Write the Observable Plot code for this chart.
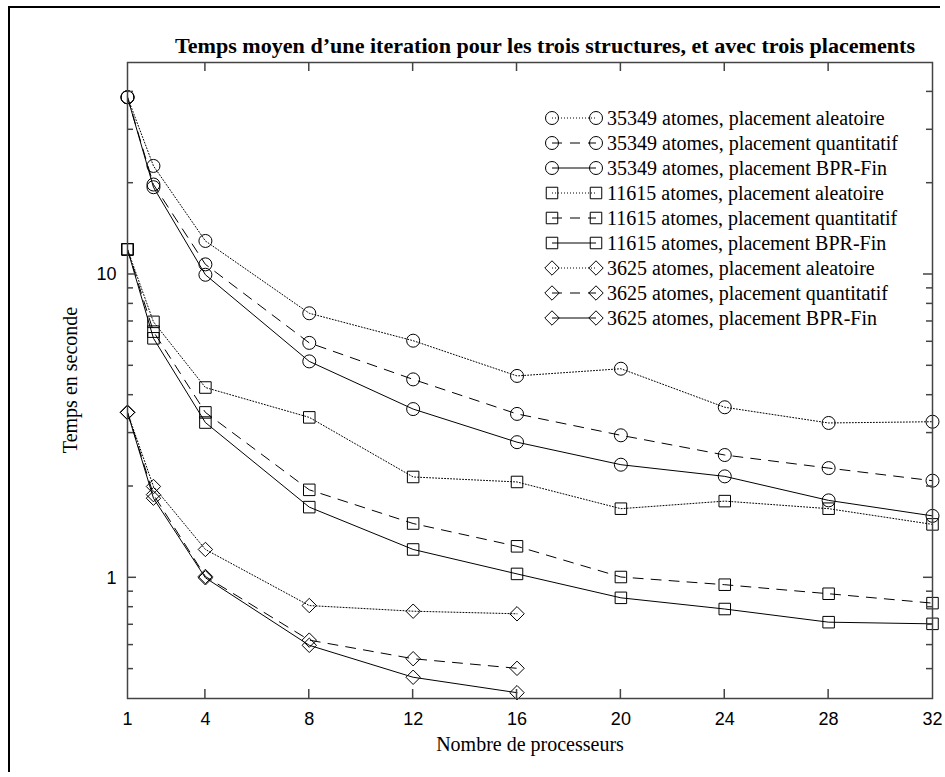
<!DOCTYPE html>
<html>
<head>
<meta charset="utf-8">
<script src="https://cdn.jsdelivr.net/npm/d3@7"></script>
<script src="https://cdn.jsdelivr.net/npm/@observablehq/plot@0.6"></script>
<style>
  html, body { margin: 0; padding: 0; background: #fff; }
  #wrap { position: relative; width: 945px; height: 777px; }
  #outer { position: absolute; left: 8px; top: 6px; width: 930px; height: 764px;
           border-left: 2px solid #000; border-top: 2px solid #000; pointer-events: none; }
</style>
</head>
<body>
<div id="wrap"><div id="outer"></div></div>
<script>
// ---- data ----
const title = "Temps moyen d’une iteration pour les trois structures, et avec trois placements";
const xLabel = "Nombre de processeurs";
const yLabel = "Temps en seconde";
const procLarge = [1, 2, 4, 8, 12, 16, 20, 24, 28, 32];
const procSmall = [1, 2, 4, 8, 12, 16];
const xTickLabels = [1, 4, 8, 12, 16, 20, 24, 28, 32];
const yTickLabels = [1, 10];
const yMinorTicks = [0.5, 0.6, 0.7, 0.8, 0.9, 2, 3, 4, 5, 6, 7, 8, 9, 20, 30, 40];

const c35349Aleatoire   = [38.4, 22.8, 12.9, 7.45, 6.05, 4.63, 4.89, 3.65, 3.24, 3.27];
const c35349Quantitatif = [38.4, 19.8, 10.8, 5.95, 4.51, 3.47, 2.95, 2.54, 2.30, 2.09];
const c35349BPR         = [38.4, 19.4, 9.98, 5.17, 3.60, 2.80, 2.36, 2.16, 1.80, 1.60];
const s11615Aleatoire   = [12.1, 6.98, 4.24, 3.38, 2.15, 2.07, 1.69, 1.79, 1.69, 1.50];
const s11615Quantitatif = [12.1, 6.48, 3.51, 1.95, 1.51, 1.27, 1.006, 0.949, 0.886, 0.825];
const s11615BPR         = [12.1, 6.16, 3.25, 1.71, 1.24, 1.03, 0.859, 0.789, 0.714, 0.705];
const d3625Aleatoire    = [3.51, 2.00, 1.24, 0.81, 0.776, 0.761];
const d3625Quantitatif  = [3.51, 1.88, 1.01, 0.623, 0.541, 0.503];
const d3625BPR          = [3.51, 1.83, 1.00, 0.599, 0.470, 0.418];

const seriesLabels = [
  "35349 atomes, placement aleatoire",
  "35349 atomes, placement quantitatif",
  "35349 atomes, placement BPR-Fin",
  "11615 atomes, placement aleatoire",
  "11615 atomes, placement quantitatif",
  "11615 atomes, placement BPR-Fin",
  "3625 atomes, placement aleatoire",
  "3625 atomes, placement quantitatif",
  "3625 atomes, placement BPR-Fin"
];
// ---- styles ----
const DOT = "1,2", DASH = "10,8", SOLID = null;
const seriesDefs = [
  {values: c35349Aleatoire,   procs: procLarge, symbol: "circle",   dash: DOT},
  {values: c35349Quantitatif, procs: procLarge, symbol: "circle",   dash: DASH},
  {values: c35349BPR,         procs: procLarge, symbol: "circle",   dash: SOLID},
  {values: s11615Aleatoire,   procs: procLarge, symbol: "square",   dash: DOT},
  {values: s11615Quantitatif, procs: procLarge, symbol: "square",   dash: DASH},
  {values: s11615BPR,         procs: procLarge, symbol: "square",   dash: SOLID},
  {values: d3625Aleatoire,    procs: procSmall, symbol: "diamond2", dash: DOT},
  {values: d3625Quantitatif,  procs: procSmall, symbol: "diamond2", dash: DASH},
  {values: d3625BPR,          procs: procSmall, symbol: "diamond2", dash: SOLID}
].map((s, i) => ({...s, label: seriesLabels[i],
  rows: s.values.map((v, j) => ({x: s.procs[j], y: v}))}));

const R = 6.5;
const serif = "'Liberation Serif', 'Times New Roman', serif";
const sans = "'Liberation Sans', Arial, sans-serif";
const axisColor = "#444";

const W = 945, H = 777, ML = 127, MR = 13, MT = 62, MB = 79;

const marks = [];
for (const s of seriesDefs) {
  marks.push(Plot.line(s.rows, {x: "x", y: "y", stroke: "#000", strokeWidth: 1,
    strokeDasharray: s.dash ?? undefined}));
  marks.push(Plot.dot(s.rows, {x: "x", y: "y", symbol: () => s.symbol, r: R,
    stroke: "#000", strokeWidth: 1, fill: "none"}));
}

const chart = Plot.plot({
  width: W, height: H,
  marginLeft: ML, marginRight: MR, marginTop: MT, marginBottom: MB,
  style: {background: "#fff", color: "#000", overflow: "visible"},
  x: {type: "linear", domain: [1, 32]},
  y: {type: "log", domain: [0.4, 50]},
  symbol: {type: "identity"},
  marks: [
    ...marks,
    Plot.frame({stroke: axisColor, strokeWidth: 1.5}),
    // tick labels
    Plot.axisX(xTickLabels, {anchor: "bottom", tickSize: 0, tickPadding: 14, label: null,
      fontSize: 18, fontFamily: sans, tickFormat: d => String(d)}),
    Plot.axisY(yTickLabels, {anchor: "left", tickSize: 0, tickPadding: 11, label: null,
      fontSize: 18, fontFamily: sans, tickFormat: d => String(d)}),
    // titles
    Plot.text([title], {frameAnchor: "top", dy: -24, dx: 15, fontWeight: "bold",
      fontSize: 20, fontFamily: serif, fill: "#000", className: "chart-title"}),
    Plot.text([xLabel], {frameAnchor: "bottom", dy: 52, fontSize: 20, fontFamily: serif, fill: "#000"})
  ]
});

const svg = d3.select(chart);
const sx = chart.scale("x"), sy = chart.scale("y");
const X = v => sx.apply(v), Y = v => sy.apply(v);
const frameLeft = ML, frameRight = W - MR, frameTop = MT, frameBottom = H - MB;

// inward ticks drawn from the plot's own scales
const tg = svg.append("g").attr("stroke", axisColor).attr("stroke-width", 1.5).attr("fill", "none");
for (const v of xTickLabels.slice(1, -1)) {
  const x = X(v);
  tg.append("line").attr("x1", x).attr("x2", x).attr("y1", frameBottom).attr("y2", frameBottom - 9);
  tg.append("line").attr("x1", x).attr("x2", x).attr("y1", frameTop).attr("y2", frameTop + 9);
}
for (const [list, len] of [[yTickLabels, 9], [yMinorTicks, 6]]) {
  for (const v of list) {
    const y = Y(v);
    tg.append("line").attr("x1", frameLeft).attr("x2", frameLeft + len).attr("y1", y).attr("y2", y);
    tg.append("line").attr("x1", frameRight).attr("x2", frameRight - len).attr("y1", y).attr("y2", y);
  }
}

// stretch title to the reference's width
svg.selectAll(".chart-title text").attr("textLength", 740).attr("lengthAdjust", "spacingAndGlyphs");

// y label
svg.append("text").attr("transform", "translate(70,380) rotate(-90)")
  .attr("text-anchor", "middle").attr("dy", "0.35em")
  .attr("font-family", serif).attr("font-size", 20).attr("fill", "#000").text(yLabel);

// ---- legend ----
const lg = svg.append("g").attr("class", "legend").attr("text-anchor", "start");
const symMap = {circle: d3.symbolCircle, square: d3.symbolSquare, diamond2: d3.symbolDiamond2};
const legendX0 = 552, legendX1 = 596, legendText = 607, legendY0 = 118, legendStep = 25;
seriesDefs.forEach((s, i) => {
  const y = legendY0 + i * legendStep;
  const line = lg.append("line").attr("x1", legendX0).attr("x2", legendX1)
    .attr("y1", y).attr("y2", y).attr("stroke", "#000").attr("stroke-width", 1);
  if (s.dash) line.attr("stroke-dasharray", s.dash);
  const path = d3.symbol(symMap[s.symbol], Math.PI * R * R)();
  for (const x of [legendX0, legendX1]) {
    lg.append("path").attr("d", path).attr("transform", `translate(${x},${y})`)
      .attr("fill", "none").attr("stroke", "#000").attr("stroke-width", 1);
  }
  lg.append("text").attr("x", legendText).attr("y", y).attr("dy", "0.35em")
    .attr("text-anchor", "start")
    .attr("font-family", serif).attr("font-size", 20).attr("fill", "#000").text(s.label);
});

document.getElementById("wrap").prepend(chart);
</script>
</body>
</html>
